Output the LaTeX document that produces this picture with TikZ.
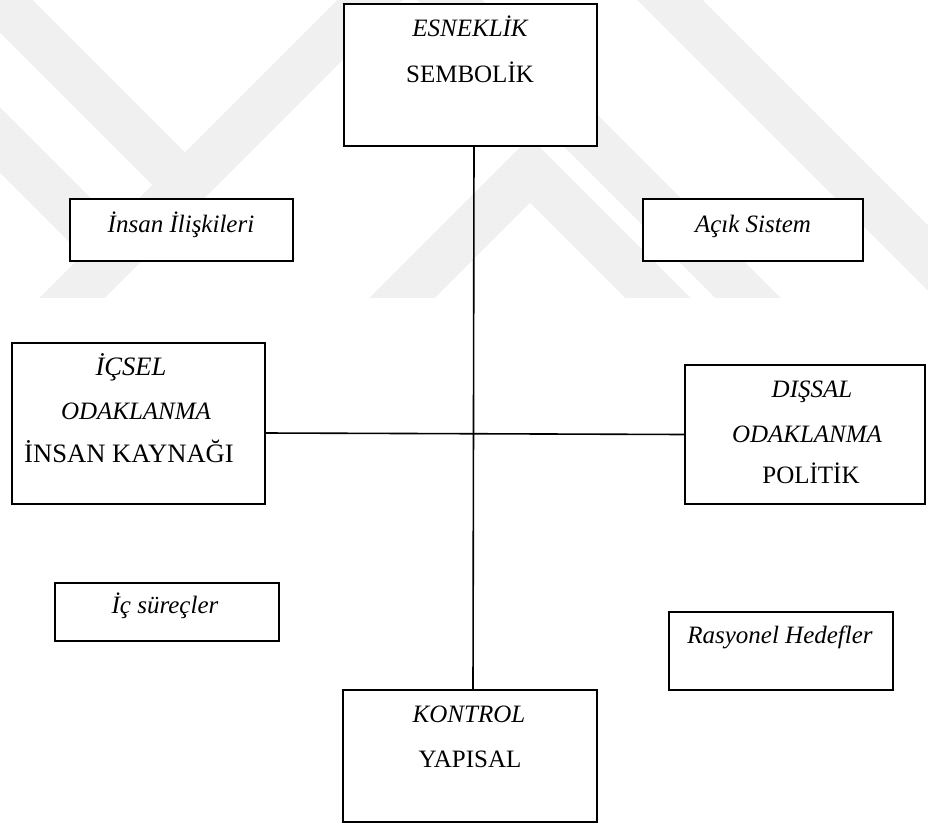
\documentclass[tikz,border=0pt]{standalone}
\usepackage{fontspec}
\setmainfont{Liberation Serif}
\begin{document}
\begin{tikzpicture}[x=1pt,y=-1pt,
  box/.style={draw=black, line width=1.6pt, rectangle, inner sep=0pt, outer sep=0pt, fill=white},
  txt/.style={anchor=base, inner sep=0pt, font=\fontsize{25}{30}\selectfont},
  itxt/.style={txt, font=\fontsize{25}{30}\selectfont\itshape},
  bigtxt/.style={txt, font=\fontsize{26.6}{30}\selectfont},
  bigitxt/.style={txt, font=\fontsize{26.6}{30}\selectfont\itshape},
  conn/.style={line width=1.6pt, black},
  wm/.style={line width=46pt, black!6, line cap=butt}]
\useasboundingbox (0,0) rectangle (928,824);
\fill[white] (0,0) rectangle (928,824);
% faint watermark
\begin{scope}
\clip (0,0) rectangle (928,297);
\draw[wm] (-40,-40) -- (185,185);
\draw[wm] (-40,100) -- (115,255);
\draw[wm] (40,330) -- (400,-30);
\draw[wm] (370,330) -- (530,170) -- (690,330);
\draw[wm] (420,-30) -- (790,340);
\draw[wm] (640,-30) -- (960,290);
\end{scope}
% boxes
\node[box, minimum width=253pt, minimum height=142pt] (top) at (470.5,75) {};
\node[box, minimum width=223pt, minimum height=62pt] (ins) at (181.5,230) {};
\node[box, minimum width=220pt, minimum height=62pt] (acik) at (753,230) {};
\node[box, minimum width=253pt, minimum height=161pt] (icsel) at (138.5,423.5) {};
\node[box, minimum width=240pt, minimum height=139pt] (dissal) at (805,434.5) {};
\node[box, minimum width=224pt, minimum height=58pt] (icsur) at (167,612) {};
\node[box, minimum width=224pt, minimum height=78pt] (rasy) at (781,651) {};
\node[box, minimum width=254pt, minimum height=132pt] (kont) at (470,756) {};
% connectors
\draw[conn] ([xshift=3.5pt]top.south) -- ([xshift=3pt]kont.north);
\draw[conn] ([yshift=-9.5pt]icsel.east) -- (dissal.west);
% texts
\node[itxt] (t1) at (470,37) {ESNEKLİK};
\node[txt] (t2) at (470,83) {SEMBOLİK};
\node[itxt] (t3) at (181,232) {İnsan İlişkileri};
\node[itxt] (t4) at (753,232) {Açık Sistem};
\node[bigitxt] (t5) at (131,375) {İÇSEL};
\node[itxt] (t6) at (136,419) {ODAKLANMA};
\node[bigtxt] (t7) at (129,462) {İNSAN KAYNAĞI};
\node[itxt] (t8) at (812,397) {DIŞSAL};
\node[itxt] (t9) at (807,442) {ODAKLANMA};
\node[txt] (t10) at (811,483) {POLİTİK};
\node[itxt] (t11) at (165,613) {İç süreçler};
\node[itxt] (t12) at (780,643) {Rasyonel Hedefler};
\node[itxt] (t13) at (469,722) {KONTROL};
\node[txt] (t14) at (470,767) {YAPISAL};
\end{tikzpicture}
\end{document}
